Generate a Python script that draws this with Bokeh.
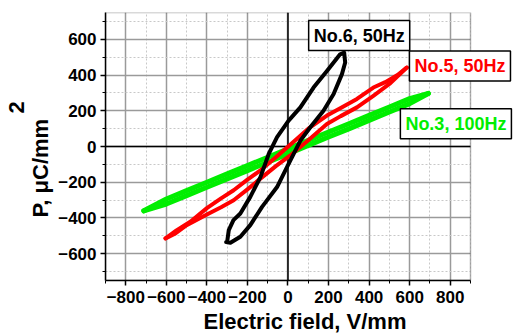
from bokeh.plotting import figure
from bokeh.models import Range1d, FixedTicker, Span, Label, BoxAnnotation, Title
from bokeh.embed import file_html
from bokeh.resources import INLINE

# ---- data ----
# No.6, 50Hz (black loop)
x6 = [-300, -292, -269, -235, -186, -136, -95, -54, 3, 61, 126, 192, 257, 277,
      282, 266, 225, 175, 110, 61, 28, -5, -54, -128, -186, -235, -284, -305, -300]
y6 = [-533, -468, -412, -375, -282, -171, -41, 52, 145, 219, 330, 423, 516, 525,
      470, 405, 294, 200, 108, 33, -41, -115, -227, -338, -440, -505, -539, -535, -533]

# No.5, 50Hz (red loop)
x5_up = [-604, -560, -500, -400, -330, -268, -200, -136, -60, 11, 100, 192, 260, 340, 421, 500, 586]
y5_up = [-514, -490, -440, -380, -340, -301, -240, -180, -110, -50, 35, 126, 170, 219, 284, 350, 442]
x5_dn = [586, 540, 480, 421, 340, 260, 192, 100, 11, -60, -136, -200, -268, -330, -400, -480, -550, -604]
y5_dn = [442, 400, 360, 330, 266, 215, 173, 100, 10, -60, -134, -185, -245, -290, -345, -420, -470, -514]

# No.3, 100Hz (green loop)
x3_up = [-711, -600, -500, -400, -300, -200, -100, 0, 100, 200, 300, 400, 500, 600, 692]
y3_up = [-360, -322, -275, -228, -181, -135, -88, -41, 6, 53, 99, 146, 193, 240, 297]
x3_dn = [692, 600, 500, 400, 300, 200, 100, 0, -100, -200, -300, -400, -500, -600, -711]
y3_dn = [297, 268, 221, 174, 127, 81, 34, -13, -60, -107, -153, -200, -247, -294, -360]

labels = ["No.6, 50Hz", "No.5, 50Hz", "No.3, 100Hz"]
label_x = [351, 848, 828]
label_y = [621, 451, 128]
label_colors = ["#000000", "#ff0000", "#00ee00"]

x_ticks = [-800, -600, -400, -200, 0, 200, 400, 600, 800]
y_ticks = [-600, -400, -200, 0, 200, 400, 600]
x_minor = list(range(-900, 901, 100))
y_minor = list(range(-700, 701, 100))
x_lim = (-900, 900)
y_lim = (-750, 750)

FONT = "Liberation Sans"

p = figure(frame_width=409, frame_height=268, output_backend="svg", toolbar_location=None,
           x_range=Range1d(-900, 1117), y_range=Range1d(*y_lim),
           min_border_left=105, min_border_right=0, min_border_top=12, min_border_bottom=56)
p.background_fill_color = "white"
p.border_fill_color = "white"
p.outline_line_color = None

p.xaxis[0].ticker = FixedTicker(ticks=x_ticks, minor_ticks=x_minor)
p.yaxis[0].ticker = FixedTicker(ticks=y_ticks, minor_ticks=y_minor)
p.xaxis[0].bounds = x_lim
for ax in (p.xaxis[0], p.yaxis[0]):
    ax.axis_line_color = "black"
    ax.axis_line_width = 1.5
    ax.major_tick_line_color = "black"
    ax.major_tick_line_width = 1.5
    ax.minor_tick_line_color = "black"
    ax.minor_tick_line_width = 1
    ax.major_tick_in = 0
    ax.major_tick_out = 5
    ax.minor_tick_in = 0
    ax.minor_tick_out = 3
    ax.major_label_text_font = FONT
    ax.major_label_text_font_style = "bold"
    ax.major_label_text_font_size = "17px"
    ax.major_label_text_color = "black"
    ax.axis_label = None
p.xaxis[0].major_label_standoff = 5
p.yaxis[0].major_label_standoff = 4

p.xgrid[0].ticker = FixedTicker(ticks=x_ticks, minor_ticks=x_minor)
p.ygrid[0].ticker = FixedTicker(ticks=y_ticks, minor_ticks=y_minor)
for g in (p.xgrid[0], p.ygrid[0]):
    g.grid_line_color = "#9a9a9a"
    g.grid_line_width = 1.5
    g.minor_grid_line_color = "#c8c8c8"
    g.minor_grid_line_dash = "2 2"
    g.minor_grid_line_width = 1

# zero lines
p.add_layout(Span(location=0, dimension="height", line_color="black", line_width=1.5,
                  level="underlay"))
p.add_layout(Span(location=0, dimension="width", line_color="black", line_width=1.5,
                  level="underlay"))
# blank margin right of the plot box (labels overhang into it)
p.add_layout(BoxAnnotation(left=x_lim[1], fill_color="white", fill_alpha=1.0,
                           line_color=None, level="underlay"))

p.line(x3_up, y3_up, line_color="#00ee00", line_width=5, line_join="round", line_cap="round")
p.line(x3_dn, y3_dn, line_color="#00ee00", line_width=5, line_join="round", line_cap="round")
p.line(x5_up, y5_up, line_color="#ff0000", line_width=4, line_join="round", line_cap="round")
p.line(x5_dn, y5_dn, line_color="#ff0000", line_width=4, line_join="round", line_cap="round")
p.line(x6, y6, line_color="black", line_width=4, line_join="round", line_cap="round")

# plot box outline
p.add_layout(BoxAnnotation(left=x_lim[0], right=x_lim[1], bottom=y_lim[0], top=y_lim[1],
                           fill_alpha=0, line_color="black", line_width=1.5))

for t, lx, ly, c in zip(labels, label_x, label_y, label_colors):
    p.add_layout(Label(x=lx, y=ly, text=t, text_color=c, text_font=FONT,
                       text_font_style="bold", text_font_size="18px",
                       text_align="center", text_baseline="middle",
                       background_fill_color="white", border_line_color="black",
                       border_line_width=1.5, padding=5))

# axis titles
p.add_layout(Title(text="Electric field, V/mm", text_font=FONT, text_font_style="bold",
                   text_font_size="22px", align="left", offset=98, standoff=3,
                   text_color="black"), "below")
p.add_layout(Title(text="P, \u03bcC/mm", text_font=FONT, text_font_style="bold",
                   text_font_size="22px", align="left", offset=63, standoff=5,
                   text_color="black"), "left")
p.add_layout(Title(text="2", text_font=FONT, text_font_style="bold",
                   text_font_size="22px", align="left", offset=167, standoff=0,
                   text_color="black"), "left")

open("out.html", "w").write(file_html(p, INLINE))
